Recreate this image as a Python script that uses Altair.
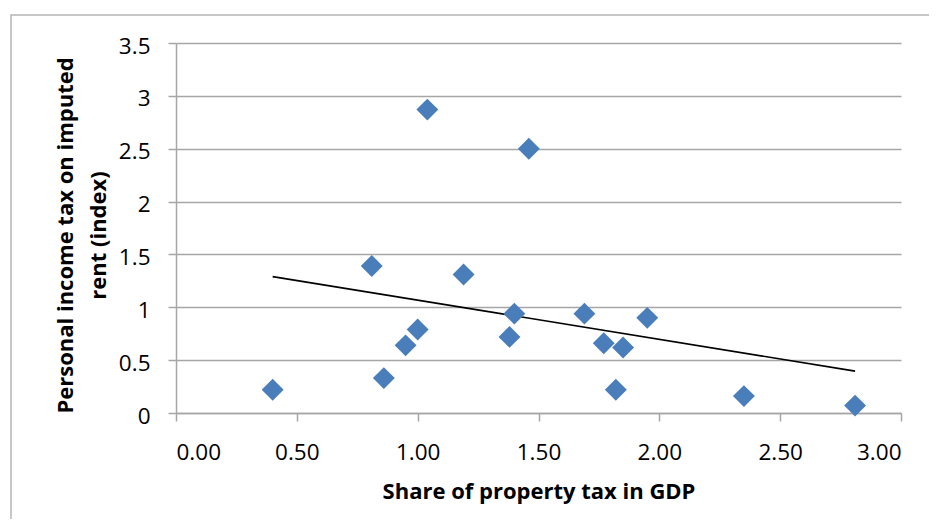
import altair as alt
import pandas as pd

# Data
share_property_tax = [0.40, 0.81, 0.86, 0.95, 1.00, 1.04, 1.19, 1.46, 1.38, 1.40,
                      1.69, 1.77, 1.85, 1.82, 1.95, 2.35, 2.81]
pit_imputed_rent = [0.22, 1.39, 0.33, 0.64, 0.79, 2.87, 1.31, 2.50, 0.72, 0.94,
                    0.94, 0.66, 0.62, 0.22, 0.90, 0.16, 0.07]
x_ticks = [0.0, 0.5, 1.0, 1.5, 2.0, 2.5, 3.0]
y_ticks = [0, 0.5, 1, 1.5, 2, 2.5, 3, 3.5]

df = pd.DataFrame({"x": share_property_tax, "y": pit_imputed_rent})

GRAY = "#a6a6a6"
FONT = "Open Sans"

x_enc = alt.X(
    "x:Q",
    scale=alt.Scale(domain=[0, 3], nice=False, zero=False),
    axis=alt.Axis(
        values=x_ticks, format=".2f", title="Share of property tax in GDP",
        grid=False, tickSize=8, tickColor=GRAY, tickWidth=1.5,
        domainColor=GRAY, domainWidth=1.5,
        labelFont=FONT, labelFontSize=22.5, labelColor="black",
        labelPadding=38, labelBaseline="alphabetic",
        titleFont=FONT, titleFontSize=22, titleFontWeight="bold", titleColor="black",
        titleBaseline="alphabetic", titleY=85,
    ),
)
y_enc = alt.Y(
    "y:Q",
    scale=alt.Scale(domain=[0, 3.5], nice=False, zero=False),
    axis=alt.Axis(
        values=y_ticks, labelExpr="'' + datum.value",
        title=["Personal income tax on imputed", "rent (index)"],
        grid=True, gridColor=GRAY, gridWidth=1.5,
        tickSize=8, tickColor=GRAY, tickWidth=1.5,
        domainColor=GRAY, domainWidth=1.5,
        labelFont=FONT, labelFontSize=22.5, labelColor="black",
        labelPadding=18, labelBaseline="middle", labelOffset=3,
        titleFont=FONT, titleFontSize=22, titleFontWeight="bold", titleColor="black",
        titleAngle=270, titleAlign="center", titleBaseline="alphabetic",
        titleLineHeight=33, titleX=-104, titleY=192,
    ),
)

base = alt.Chart(df)

points = base.mark_point(
    shape="diamond", filled=True, size=480, color="#4A7EBB", opacity=1
).encode(x=x_enc, y=y_enc)

trend = base.transform_regression("x", "y", method="linear").mark_line(
    color="black", strokeWidth=1.6
).encode(x="x:Q", y="y:Q")

border = alt.Chart(pd.DataFrame({"k": [0]})).mark_rect(
    fillOpacity=0, stroke="#b5b5b5", strokeWidth=1.5
).encode(x=alt.value(-165), x2=alt.value(800), y=alt.value(-28), y2=alt.value(600))

chart = alt.layer(border, trend, points).properties(
    width=725, height=370,
    autosize=alt.AutoSizeParams(type="none"),
    padding={"left": 168, "top": 35, "right": 28, "bottom": 106},
    background="white",
).configure_view(strokeWidth=0)

chart.save("out.html", embed_options={"renderer": "svg", "actions": False})
